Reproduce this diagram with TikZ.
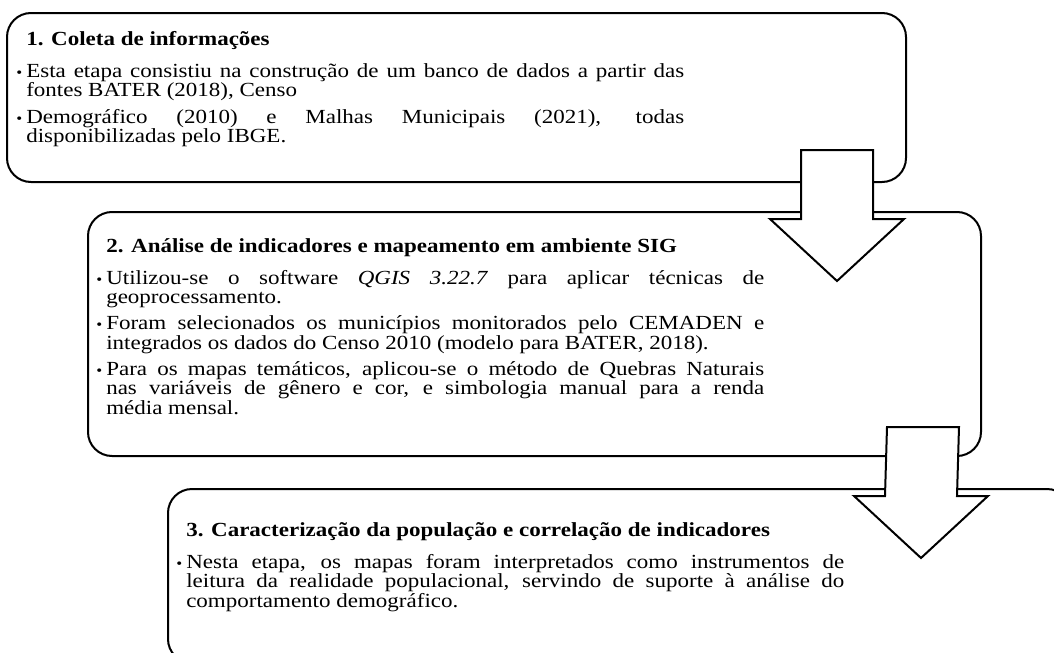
\documentclass[tikz,border=0pt]{standalone}
\usepackage{fontspec}
\setmainfont{Liberation Serif}[FakeStretch=1.15]
\usetikzlibrary{positioning,calc}

\def\pxu{0.75pt}
\newcommand{\stagesetup}{\fontsize{15pt}{14.6pt}\selectfont\parskip=5pt\hyphenpenalty=10000\emergencystretch=20pt}
\newcommand{\stagetitle}[1]{{\bfseries #1}\par\vspace{4.5pt}}
\newcommand{\bitem}{\par\noindent\llap{{\fontsize{11pt}{11pt}\selectfont\textbullet}\hspace{3pt}}}
\newcommand{\stagearrow}[3][]
{
	% shaft starts at #2, tip at #3
	\draw [blockarrow,#1] ($(#2)+(-36,0)$) -- ($(#3)+(-36,-62)$) -- ($(#3)+(-67,-62)$) -- (#3)
		-- ($(#3)+(67,-62)$) -- ($(#3)+(36,-62)$) -- ($(#2)+(36,0)$) -- cycle;
}

\tikzset{
	stagebox/.style={draw, line width=1.5pt, rounded corners=18pt, fill=white, anchor=north west, inner sep=0pt},
	stagetext/.style={anchor=north west, inner sep=0pt, text width=658*\pxu, align=justify, execute at begin node=\stagesetup},
	blockarrow/.style={draw, line width=1.5pt, fill=white, line join=miter},
}

\begin{document}
\begin{tikzpicture}[x=\pxu, y=-\pxu]
		\useasboundingbox (0,0) rectangle (1054,653);
		\clip (0,0) rectangle (1054,653);
		% step 1
		\node [stagebox, minimum width=899*\pxu, minimum height=169*\pxu] (coleta) at (6,12) {};
		\node [stagetext] (coletatxt) at (26,31) {\stagetitle{1. Coleta de informações}
			\bitem Esta etapa consistiu na construção de um banco de dados a partir das\linebreak fontes BATER (2018), Censo
			\bitem Demográfico (2010) e Malhas Municipais (2021), todas\linebreak disponibilizadas pelo IBGE.};
		% step 2
		\node [stagebox, minimum width=893*\pxu, minimum height=244*\pxu] (analise) at (87,211) {};
		\node [stagetext] (analisetxt) at (106,238) {\stagetitle{2. Análise de indicadores e mapeamento em ambiente SIG}
			\bitem Utilizou-se o software \textit{QGIS 3.22.7} para aplicar técnicas de\linebreak geoprocessamento.
			\bitem Foram selecionados os municípios monitorados pelo CEMADEN e\linebreak integrados os dados do Censo 2010 (modelo para BATER, 2018).
			\bitem Para os mapas temáticos, aplicou-se o método de Quebras Naturais\linebreak nas variáveis de gênero e cor, e simbologia manual para a renda\linebreak média mensal.};
		\coordinate (a1top) at ($(coleta.south east)+(-70,-33)$);
		\coordinate (a1tip) at ($(analise.north east)+(-145,70)$);
		\stagearrow{a1top}{a1tip}
		% step 3
		\node [stagebox, minimum width=903*\pxu, minimum height=174*\pxu] (carac) at (167,488) {};
		\node [stagetext] (caractxt) at (186,522) {\stagetitle{3. Caracterização da população e correlação de indicadores}
			\bitem Nesta etapa, os mapas foram interpretados como instrumentos de\linebreak leitura da realidade populacional, servindo de suporte à análise do\linebreak comportamento demográfico.};
		\coordinate (a2top) at ($(analise.south east)+(-59,-30)$);
		\coordinate (a2tip) at ($(carac.north west)+(754,70)$);
		\stagearrow{a2top}{a2tip}
		\end{tikzpicture}
\end{document}
